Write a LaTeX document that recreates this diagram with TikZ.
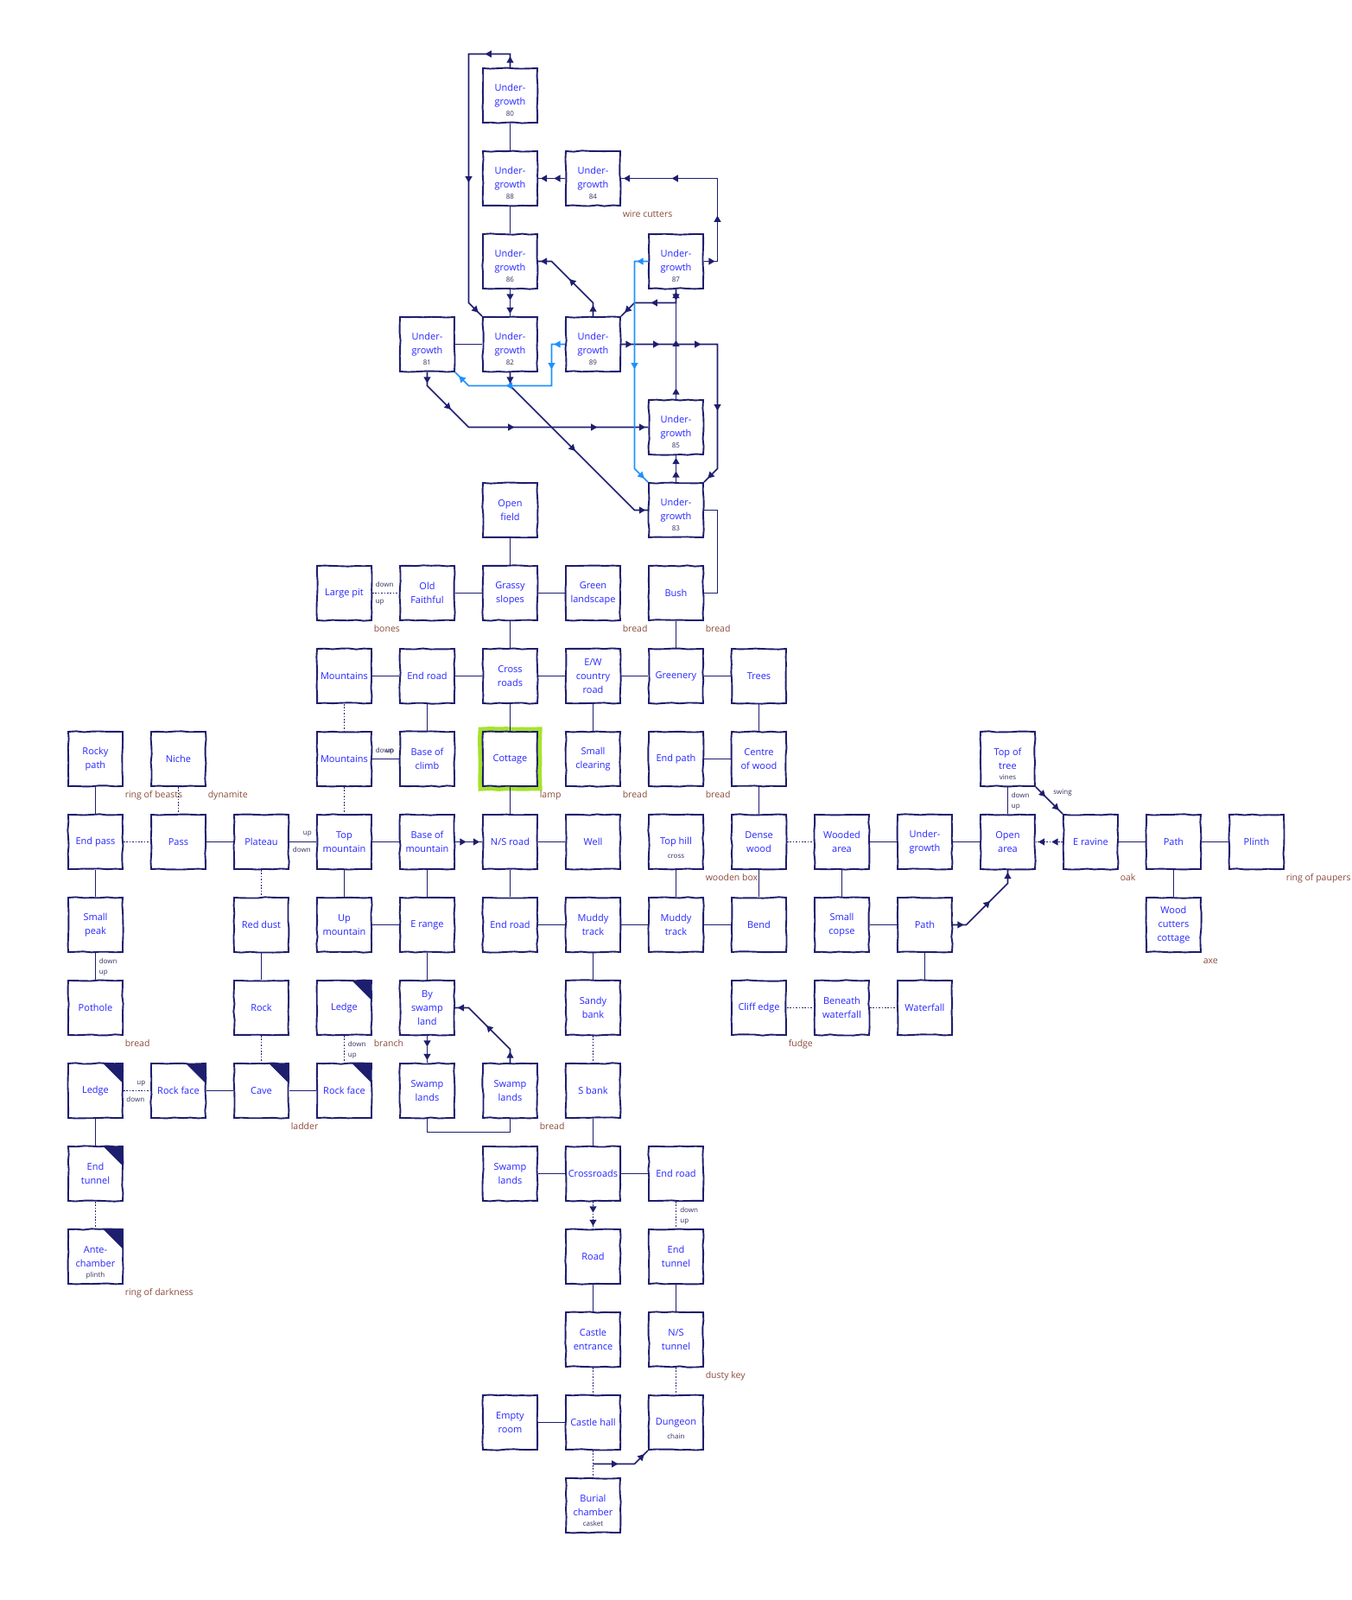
\documentclass[tikz,border=0pt]{standalone}
\usepackage{fontspec}
\setmainfont{Open Sans}
\usetikzlibrary{shapes.geometric,decorations.pathmorphing,decorations.pathreplacing}
\definecolor{mapline}{HTML}{1E1E6E}
\definecolor{altline}{HTML}{1E90FF}
\definecolor{roomtext}{HTML}{2626FF}
\definecolor{itemtext}{HTML}{8B4A3C}
\definecolor{notetext}{HTML}{303060}
\definecolor{hilite}{HTML}{A6E22E}
\tikzset{
	% ------- every something
	every picture/.style={
		x=96pt, y=-96pt,
	},
	every path/.style={
		line width=1.7pt,
	},
	% ------- custom
	room/.style={
		draw=mapline,
		line width=1.9pt,
		fill=white,
		minimum size=63pt,
		inner sep=0pt,
		align=center,
		text=roomtext,
		font=\fontsize{11}{16}\selectfont,
		decorate,
		decoration={random steps, segment length=9pt, amplitude=0.65pt},
	},
	darkroom/.style={
		path picture={
			\fill[mapline] (path picture bounding box.north east)
				-- ++(-23.5pt,0pt) -- ++(23.5pt,-23.5pt) -- cycle;
		},
	},
	startroom/.style={
		preaction={draw=hilite, line width=11pt},
	},
	passage/.style={
		draw=mapline,
		line width=1.7pt,
	},
	altpassage/.style={
		draw=altline,
		line width=1.7pt,
	},
	dotline/.style={
		dash pattern=on 1.7pt off 1.7pt,
	},
	waytip/.style={
		isosceles triangle,
		isosceles triangle apex angle=60,
		inner sep=0pt,
		minimum size=7.2pt,
	},
	oneway/.style={
		postaction={
			decorate,
			decoration={
				show path construction,
				lineto code={
					\path (\tikzinputsegmentfirst) -- (\tikzinputsegmentlast)
						node[midway, sloped, allow upside down, waytip, fill=#1] {};
				},
			},
		},
	},
	oneway/.default=mapline,
	subnote/.style={
		font=\fontsize{8}{9}\selectfont,
		text=notetext,
		inner sep=0pt,
		anchor=base,
	},
	dirnote/.style={
		font=\fontsize{8}{9}\selectfont,
		text=notetext,
		inner sep=0pt,
	},
	itemnote/.style={
		font=\fontsize{10.5}{12}\selectfont,
		text=itemtext,
		inner sep=0pt,
		anchor=base west,
	},
}

\begin{document}
\begin{tikzpicture}

% frame %{{{1

	\useasboundingbox (-1.151,-1.151) rectangle (15.141,18.141);

% forest rooms %{{{1

	\node[room] (ug80) at (5,0) {Under-\\growth};
	\node[room] (ug88) at (5,1) {Under-\\growth};
	\node[room] (ug84) at (6,1) {Under-\\growth};
	\node[room] (ug86) at (5,2) {Under-\\growth};
	\node[room] (ug87) at (7,2) {Under-\\growth};
	\node[room] (ug81) at (4,3) {Under-\\growth};
	\node[room] (ug82) at (5,3) {Under-\\growth};
	\node[room] (ug89) at (6,3) {Under-\\growth};
	\node[room] (ug85) at (7,4) {Under-\\growth};
	\node[room] (ug83) at (7,5) {Under-\\growth};

% rooms, rows 5 to 8 %{{{1

	\node[room] (openfield)   at (5,5) {Open\\field};

	\node[room] (largepit)    at (3,6) {Large pit};
	\node[room] (oldfaithful) at (4,6) {Old\\Faithful};
	\node[room] (grassy)      at (5,6) {Grassy\\slopes};
	\node[room] (greenland)   at (6,6) {Green\\landscape};
	\node[room] (bush)        at (7,6) {Bush};

	\node[room] (mountainsa)  at (3,7) {Mountains};
	\node[room] (endroada)    at (4,7) {End road};
	\node[room] (crossroadsa) at (5,7) {Cross\\roads};
	\node[room] (ewroad)      at (6,7) {E/W\\country\\road};
	\node[room] (greenery)    at (7,7) {Greenery};
	\node[room] (trees)       at (8,7) {Trees};

	\node[room] (rockypath)   at (0,8) {Rocky\\path};
	\node[room] (niche)       at (1,8) {Niche};
	\node[room] (mountainsb)  at (3,8) {Mountains};
	\node[room] (baseclimb)   at (4,8) {Base of\\climb};
	\node[room, startroom] (cottage) at (5,8) {Cottage};
	\node[room] (clearing)    at (6,8) {Small\\clearing};
	\node[room] (endpath)     at (7,8) {End path};
	\node[room] (centrewood)  at (8,8) {Centre\\of wood};
	\node[room] (treetop)     at (11,8) {Top of\\tree};

% rooms, rows 9 to 11 %{{{1

	\node[room] (endpass)     at (0,9) {End pass};
	\node[room] (pass)        at (1,9) {Pass};
	\node[room] (plateau)     at (2,9) {Plateau};
	\node[room] (topmtn)      at (3,9) {Top\\mountain};
	\node[room] (basemtn)     at (4,9) {Base of\\mountain};
	\node[room] (nsroad)      at (5,9) {N/S road};
	\node[room] (well)        at (6,9) {Well};
	\node[room] (tophill)     at (7,9) {Top hill};
	\node[room] (densewood)   at (8,9) {Dense\\wood};
	\node[room] (woodedarea)  at (9,9) {Wooded\\area};
	\node[room] (ugwood)      at (10,9) {Under-\\growth};
	\node[room] (openarea)    at (11,9) {Open\\area};
	\node[room] (eravine)     at (12,9) {E ravine};
	\node[room] (eastpath)    at (13,9) {Path};
	\node[room] (plinth)      at (14,9) {Plinth};

	\node[room] (smallpeak)   at (0,10) {Small\\peak};
	\node[room] (reddust)     at (2,10) {Red dust};
	\node[room] (upmtn)       at (3,10) {Up\\mountain};
	\node[room] (erange)      at (4,10) {E range};
	\node[room] (endroadb)    at (5,10) {End road};
	\node[room] (muddya)      at (6,10) {Muddy\\track};
	\node[room] (muddyb)      at (7,10) {Muddy\\track};
	\node[room] (bend)        at (8,10) {Bend};
	\node[room] (copse)       at (9,10) {Small\\copse};
	\node[room] (woodpath)    at (10,10) {Path};
	\node[room] (woodcutters) at (13,10) {Wood\\cutters\\cottage};

	\node[room] (pothole)     at (0,11) {Pothole};
	\node[room] (rock)        at (2,11) {Rock};
	\node[room, darkroom] (ledgea) at (3,11) {Ledge};
	\node[room] (byswamp)     at (4,11) {By\\swamp\\land};
	\node[room] (sandybank)   at (6,11) {Sandy\\bank};
	\node[room] (cliffedge)   at (8,11) {Cliff edge};
	\node[room] (beneath)     at (9,11) {Beneath\\waterfall};
	\node[room] (waterfall)   at (10,11) {Waterfall};

% rooms, rows 12 to 17 %{{{1

	\node[room, darkroom] (ledgeb)    at (0,12) {Ledge};
	\node[room, darkroom] (rockfacea) at (1,12) {Rock face};
	\node[room, darkroom] (cave)      at (2,12) {Cave};
	\node[room, darkroom] (rockfaceb) at (3,12) {Rock face};
	\node[room] (swampa)      at (4,12) {Swamp\\lands};
	\node[room] (swampb)      at (5,12) {Swamp\\lands};
	\node[room] (sbank)       at (6,12) {S bank};

	\node[room, darkroom] (endtunnela) at (0,13) {End\\tunnel};
	\node[room] (swampc)      at (5,13) {Swamp\\lands};
	\node[room] (crossroadsb) at (6,13) {Crossroads};
	\node[room] (endroadc)    at (7,13) {End road};

	\node[room, darkroom] (antechamber) at (0,14) {Ante-\\chamber};
	\node[room] (road)        at (6,14) {Road};
	\node[room] (endtunnelb)  at (7,14) {End\\tunnel};

	\node[room] (castleentrance) at (6,15) {Castle\\entrance};
	\node[room] (nstunnel)    at (7,15) {N/S\\tunnel};

	\node[room] (emptyroom)   at (5,16) {Empty\\room};
	\node[room] (castlehall)  at (6,16) {Castle hall};
	\node[room] (dungeon)     at (7,16) {Dungeon};

	\node[room] (burial)      at (6,17) {Burial\\chamber};

% small notes in rooms %{{{1

	\node[subnote] (num80) at ([yshift=-24pt]ug80.center) {80};
	\node[subnote] (num81) at ([yshift=-24pt]ug81.center) {81};
	\node[subnote] (num82) at ([yshift=-24pt]ug82.center) {82};
	\node[subnote] (num83) at ([yshift=-24pt]ug83.center) {83};
	\node[subnote] (num84) at ([yshift=-24pt]ug84.center) {84};
	\node[subnote] (num85) at ([yshift=-24pt]ug85.center) {85};
	\node[subnote] (num86) at ([yshift=-24pt]ug86.center) {86};
	\node[subnote] (num87) at ([yshift=-24pt]ug87.center) {87};
	\node[subnote] (num88) at ([yshift=-24pt]ug88.center) {88};
	\node[subnote] (num89) at ([yshift=-24pt]ug89.center) {89};

	\node[subnote] (vines)  at ([yshift=-24pt]treetop.center) {vines};
	\node[subnote] (cross)  at ([yshift=-19.5pt]tophill.center) {cross};
	\node[subnote] (plinthnote) at ([yshift=-24pt]antechamber.center) {plinth};
	\node[subnote] (chain)  at ([yshift=-19.5pt]dungeon.center) {chain};
	\node[subnote] (casket) at ([yshift=-24pt]burial.center) {casket};

% items %{{{1

	\node[itemnote] (itemug84)      at ([xshift=1pt,yshift=-12.5pt]ug84.south east) {wire cutters};
	\node[itemnote] (itemlargepit)  at ([xshift=1pt,yshift=-12.5pt]largepit.south east) {bones};
	\node[itemnote] (itemgreenland) at ([xshift=1pt,yshift=-12.5pt]greenland.south east) {bread};
	\node[itemnote] (itembush)      at ([xshift=1pt,yshift=-12.5pt]bush.south east) {bread};
	\node[itemnote] (itemrockypath) at ([xshift=1pt,yshift=-12.5pt]rockypath.south east) {ring of beasts};
	\node[itemnote] (itemniche)     at ([xshift=1pt,yshift=-12.5pt]niche.south east) {dynamite};
	\node[itemnote] (itemcottage)   at ([xshift=1pt,yshift=-12.5pt]cottage.south east) {lamp};
	\node[itemnote] (itemclearing)  at ([xshift=1pt,yshift=-12.5pt]clearing.south east) {bread};
	\node[itemnote] (itemendpath)   at ([xshift=1pt,yshift=-12.5pt]endpath.south east) {bread};
	\node[itemnote] (itemtophill)   at ([xshift=1pt,yshift=-12.5pt]tophill.south east) {wooden box};
	\node[itemnote] (itemeravine)   at ([xshift=1pt,yshift=-12.5pt]eravine.south east) {oak};
	\node[itemnote] (itemplinth)    at ([xshift=1pt,yshift=-12.5pt]plinth.south east) {ring of paupers};
	\node[itemnote] (itemwoodcutters) at ([xshift=1pt,yshift=-12.5pt]woodcutters.south east) {axe};
	\node[itemnote] (itempothole)   at ([xshift=1pt,yshift=-12.5pt]pothole.south east) {bread};
	\node[itemnote] (itemledgea)    at ([xshift=1pt,yshift=-12.5pt]ledgea.south east) {branch};
	\node[itemnote] (itemcliffedge) at ([xshift=1pt,yshift=-12.5pt]cliffedge.south east) {fudge};
	\node[itemnote] (itemcave)      at ([xshift=1pt,yshift=-12.5pt]cave.south east) {ladder};
	\node[itemnote] (itemswampb)    at ([xshift=1pt,yshift=-12.5pt]swampb.south east) {bread};
	\node[itemnote] (itemantechamber) at ([xshift=1pt,yshift=-12.5pt]antechamber.south east) {ring of darkness};
	\node[itemnote] (itemnstunnel)  at ([xshift=1pt,yshift=-12.5pt]nstunnel.south east) {dusty key};

% passages, forest %{{{1

	\draw[passage] (ug80) -- (ug88);
	\draw[passage] (ug88) -- (ug86);
	\draw[passage] (ug81) -- (ug82);
	\draw[passage] (ug83.east) -- (7.5,5) -- (7.5,6) -- (bush.east);

% passages, open land %{{{1

	\draw[passage] (openfield) -- (grassy);
	\draw[passage] (oldfaithful) -- (grassy);
	\draw[passage] (grassy) -- (greenland);
	\draw[passage] (grassy) -- (crossroadsa);
	\draw[passage] (bush) -- (greenery);

	\draw[passage] (mountainsa) -- (endroada);
	\draw[passage] (endroada) -- (crossroadsa);
	\draw[passage] (crossroadsa) -- (ewroad);
	\draw[passage] (ewroad) -- (greenery);
	\draw[passage] (greenery) -- (trees);
	\draw[passage] (endroada) -- (baseclimb);
	\draw[passage] (crossroadsa) -- (cottage);
	\draw[passage] (ewroad) -- (clearing);
	\draw[passage] (trees) -- (centrewood);

	\draw[passage] (rockypath) -- (endpass);
	\draw[passage] (mountainsb) -- (baseclimb);
	\draw[passage] (cottage) -- (nsroad);
	\draw[passage] (endpath) -- (centrewood);
	\draw[passage] (centrewood) -- (densewood);
	\draw[passage] (treetop) -- (openarea);

	\draw[passage] (pass) -- (plateau);
	\draw[passage] (plateau) -- (topmtn);
	\draw[passage] (topmtn) -- (basemtn);
	\draw[passage] (nsroad) -- (well);
	\draw[passage] (woodedarea) -- (ugwood);
	\draw[passage] (ugwood) -- (openarea);
	\draw[passage] (eravine) -- (eastpath);
	\draw[passage] (eastpath) -- (plinth);
	\draw[passage] (eastpath) -- (woodcutters);
	\draw[passage] (endpass) -- (smallpeak);
	\draw[passage] (topmtn) -- (upmtn);
	\draw[passage] (basemtn) -- (erange);
	\draw[passage] (nsroad) -- (endroadb);
	\draw[passage] (tophill) -- (muddyb);
	\draw[passage] (densewood) -- (bend);
	\draw[passage] (woodedarea) -- (copse);

	\draw[passage] (upmtn) -- (erange);
	\draw[passage] (endroadb) -- (muddya);
	\draw[passage] (muddya) -- (muddyb);
	\draw[passage] (muddyb) -- (bend);
	\draw[passage] (copse) -- (woodpath);
	\draw[passage] (smallpeak) -- (pothole);
	\draw[passage] (reddust) -- (rock);
	\draw[passage] (erange) -- (byswamp);
	\draw[passage] (muddya) -- (sandybank);
	\draw[passage] (woodpath) -- (waterfall);

% passages, caves, swamp and castle %{{{1

	\draw[passage] (rockfacea) -- (cave);
	\draw[passage] (cave) -- (rockfaceb);
	\draw[passage] (ledgeb) -- (endtunnela);
	\draw[passage] (swampa.south) -- (4,12.5) -- (5,12.5) -- (swampb.south);
	\draw[passage] (sbank) -- (crossroadsb);
	\draw[passage] (swampc) -- (crossroadsb);
	\draw[passage] (crossroadsb) -- (endroadc);
	\draw[passage] (road) -- (castleentrance);
	\draw[passage] (endtunnelb) -- (nstunnel);
	\draw[passage] (emptyroom) -- (castlehall);

% dotted passages %{{{1

	\draw[passage, dotline] (largepit) -- (oldfaithful);
	\draw[passage, dotline] (mountainsa) -- (mountainsb);
	\draw[passage, dotline] (mountainsb) -- (topmtn);
	\draw[passage, dotline] (niche) -- (pass);
	\draw[passage, dotline] (endpass) -- (pass);
	\draw[passage, dotline] (plateau) -- (reddust);
	\draw[passage, dotline] (densewood) -- (woodedarea);
	\draw[passage, dotline] (rock) -- (cave);
	\draw[passage, dotline] (ledgea) -- (rockfaceb);
	\draw[passage, dotline] (sandybank) -- (sbank);
	\draw[passage, dotline] (cliffedge) -- (beneath);
	\draw[passage, dotline] (beneath) -- (waterfall);
	\draw[passage, dotline] (ledgeb) -- (rockfacea);
	\draw[passage, dotline] (endtunnela) -- (antechamber);
	\draw[passage, dotline] (endroadc) -- (endtunnelb);
	\draw[passage, dotline] (castleentrance) -- (castlehall);
	\draw[passage, dotline] (nstunnel) -- (dungeon);
	\draw[passage, dotline] (castlehall) -- (burial);

% one way passages, forest %{{{1

	\draw[passage, oneway] (ug80.north) -- (5,-0.5) -- (4.5,-0.5) -- (4.5,2.5) -- (ug82.north west);
	\draw[passage, oneway] (ug86.south) -- (5,2.5) -- (ug82.north);
	\draw[passage, oneway] (ug84.west) -- (5.5,1) -- (ug88.east);
	\draw[passage, oneway] (ug87.east) -- (7.5,2) -- (7.5,1) -- (6.5,1) -- (ug84.east);
	\draw[passage, oneway] (ug89.north) -- (6,2.5) -- (5.5,2) -- (ug86.east);
	\draw[passage, oneway] (ug82.south) -- (5,3.5) -- (6.5,5) -- (ug83.west);
	\draw[passage, oneway] (ug81.south) -- (4,3.5) -- (4.5,4) -- (5.5,4) -- (6.5,4) -- (ug85.west);
	\draw[passage, oneway] (ug83.north) -- (7,4.5) -- (ug85.south);
	\draw[passage, oneway] (ug85.north) -- (7,3.5) -- (7,2.5) -- (ug87.south);
	\draw[passage, oneway] (ug87.south) -- (7,2.5) -- (6.5,2.5) -- (ug89.north east);
	\draw[passage, oneway] (ug89.east) -- (6.5,3) -- (7,3) -- (7.5,3) -- (7.5,4.5) -- (ug83.north east);

	\draw[altpassage, oneway=altline] (ug89.west) -- (5.5,3) -- (5.5,3.5) -- (4.5,3.5) -- (ug81.south east);
	\draw[altpassage, oneway=altline] (ug87.west) -- (6.5,2) -- (6.5,4.5) -- (ug83.north west);

% one way passages, elsewhere %{{{1

	\draw[passage, oneway] (basemtn.east) -- (4.5,9) -- (nsroad.west);
	\draw[passage, dotline, oneway] (eravine.west) -- (11.5,9) -- (openarea.east);
	\draw[passage, oneway] (treetop.south east) -- (11.5,8.5) -- (eravine.north west);
	\draw[passage, oneway] (woodpath.east) -- (10.5,10) -- (11,9.5) -- (openarea.south);
	\draw[passage, oneway] (byswamp.south) -- (4,11.5) -- (swampa.north);
	\draw[passage, oneway] (swampb.north) -- (5,11.5) -- (4.5,11) -- (byswamp.east);
	\draw[passage, dotline, oneway] (crossroadsb.south) -- (6,13.5) -- (road.north);

	\coordinate (hallgap) at (6,16.5);
	\draw[passage, oneway] (hallgap) -- (6.5,16.5) -- (dungeon.south west);

% up and down notes %{{{1

	\node[dirnote, anchor=base west] (pitdown)  at ([xshift=3pt,yshift=6.5pt]largepit.east) {down};
	\node[dirnote, anchor=base west] (pitup)    at ([xshift=3pt,yshift=-12.5pt]largepit.east) {up};

	\node[dirnote, anchor=base west] (climbdown) at ([xshift=3pt,yshift=7pt]mountainsb.east) {down};
	\node[dirnote, anchor=base east] (climbup)   at ([xshift=-5pt,yshift=7pt]baseclimb.west) {up};

	\node[dirnote, anchor=base east] (plateauup)   at ([xshift=-4.5pt,yshift=7.5pt]topmtn.west) {up};
	\node[dirnote, anchor=base east] (plateaudown) at ([xshift=-5.5pt,yshift=-12.5pt]topmtn.west) {down};

	\node[dirnote, anchor=base west] (peakdown) at ([xshift=3.5pt,yshift=-13pt]smallpeak.south) {down};
	\node[dirnote, anchor=base west] (peakup)   at ([xshift=3.5pt,yshift=-25pt]smallpeak.south) {up};

	\node[dirnote, anchor=base west] (ledgedown) at ([xshift=3.5pt,yshift=-13pt]ledgea.south) {down};
	\node[dirnote, anchor=base west] (ledgeup)   at ([xshift=3.5pt,yshift=-25pt]ledgea.south) {up};

	\node[dirnote, anchor=base east] (faceup)   at ([xshift=-5pt,yshift=7pt]rockfacea.west) {up};
	\node[dirnote, anchor=base east] (facedown) at ([xshift=-6pt,yshift=-13pt]rockfacea.west) {down};

	\node[dirnote, anchor=base west] (treedown) at ([xshift=3.5pt,yshift=-13pt]treetop.south) {down};
	\node[dirnote, anchor=base west] (treeup)   at ([xshift=3.5pt,yshift=-25pt]treetop.south) {up};

	\node[dirnote, anchor=base west] (tunneldown) at ([xshift=4pt,yshift=-13pt]endroadc.south) {down};
	\node[dirnote, anchor=base west] (tunnelup)   at ([xshift=4pt,yshift=-25pt]endroadc.south) {up};

	\node[dirnote, anchor=base west] (swing) at ([xshift=19.5pt,yshift=-8.5pt]treetop.south east) {swing};

% closing %{{{1

\end{tikzpicture}
\end{document}
